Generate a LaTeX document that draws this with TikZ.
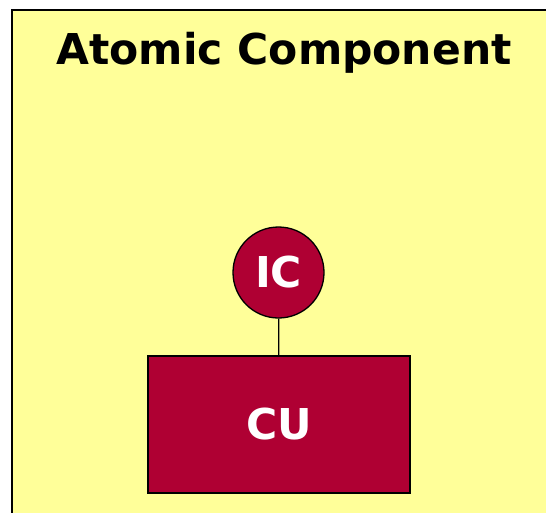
\documentclass[tikz,border=0pt]{standalone}
\usepackage{fontspec}
\setmainfont{DejaVu Sans}
\usepackage{xcolor}
\usetikzlibrary{positioning}
\definecolor{compyellow}{HTML}{FFFF99}
\definecolor{compred}{HTML}{AF0033}

\begin{document}
\begin{tikzpicture}[
    x=1pt, y=-1pt, font=\fontsize{42.5}{46}\selectfont\bfseries,
    frame/.style={draw, line width=1.5pt, fill=compyellow},
    port/.style={circle, draw, line width=1.3pt, fill=compred, text=white, minimum size=91pt, inner sep=0pt},
    unit/.style={rectangle, draw, line width=1.3pt, fill=compred, text=white, minimum width=262pt, minimum height=137pt, inner sep=0pt}]
    \useasboundingbox (0,0) rectangle (546,512);
    \clip (0,0) rectangle (546,512);
    \draw[frame] (12,10) rectangle (560,530);
    \node[anchor=base] (title) at (284,64) {Atomic Component};
    \node[port] (ic) at (278.5,272.5) {IC};
    \node[unit] (cu) at (279,424.5) {CU};
    \draw[line width=1.3pt] (ic) -- (cu);
\end{tikzpicture}
\end{document}
